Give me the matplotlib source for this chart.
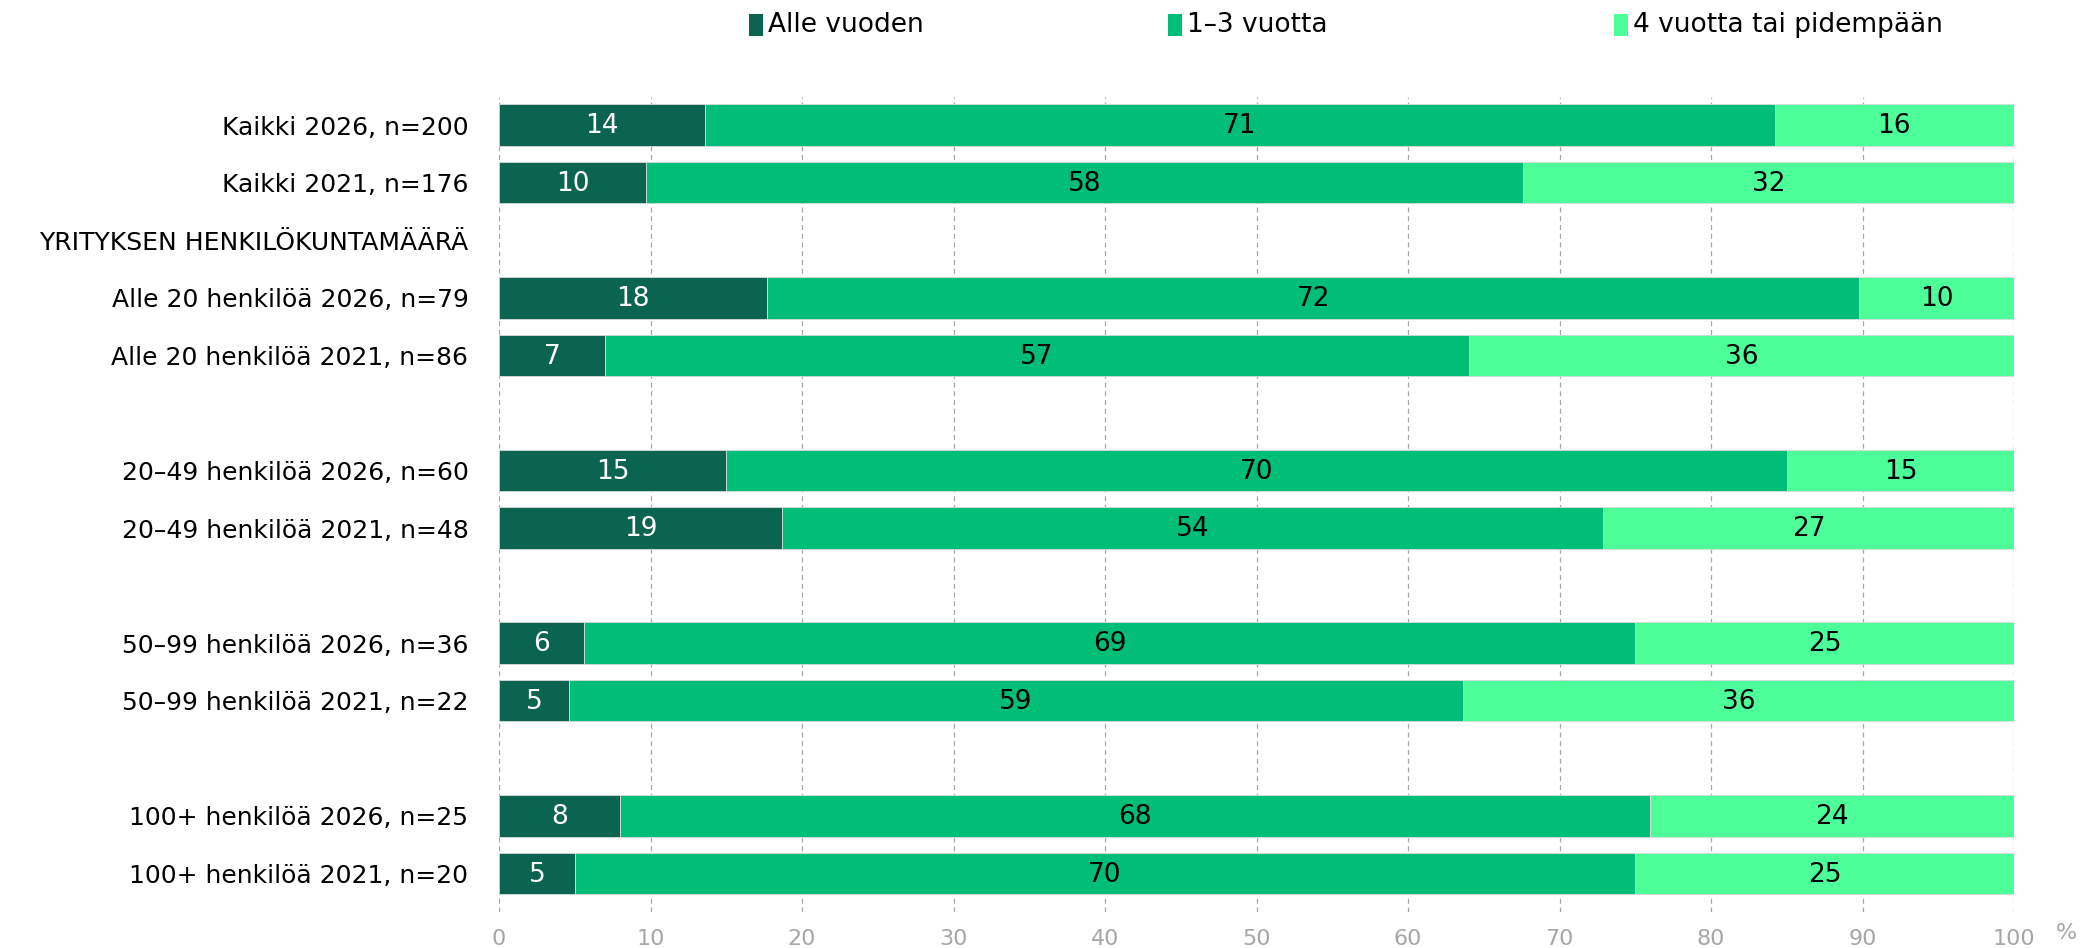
import matplotlib
matplotlib.use("Agg")
import matplotlib.pyplot as plt
from matplotlib.patches import Rectangle
import numpy as np

plt.rcParams["font.family"] = ["DejaVu Sans"]

# rows top to bottom; None marks a header / spacer row with no bar
categories = [
    "Kaikki 2026, n=200",
    "Kaikki 2021, n=176",
    "YRITYKSEN HENKILÖKUNTAMÄÄRÄ",
    "Alle 20 henkilöä 2026, n=79",
    "Alle 20 henkilöä 2021, n=86",
    "",
    "20–49 henkilöä 2026, n=60",
    "20–49 henkilöä 2021, n=48",
    "",
    "50–99 henkilöä 2026, n=36",
    "50–99 henkilöä 2021, n=22",
    "",
    "100+ henkilöä 2026, n=25",
    "100+ henkilöä 2021, n=20",
]
alle_vuoden = [13.6, 9.7, None, 17.7, 7.0, None, 15.0, 18.7, None, 5.6, 4.6, None, 8.0, 5.0]
vuotta_1_3 = [70.6, 57.9, None, 72.1, 57.0, None, 70.0, 54.2, None, 69.4, 59.0, None, 68.0, 70.0]
vuotta_4 = [15.8, 32.4, None, 10.2, 36.0, None, 15.0, 27.1, None, 25.0, 36.4, None, 24.0, 25.0]

series = ["Alle vuoden", "1–3 vuotta", "4 vuotta tai pidempään"]
colors = ["#0b6450", "#00bd77", "#4cff98"]
text_colors = ["white", "black", "black"]

W, H = 2087, 948
fig = plt.figure(figsize=(W / 100, H / 100), dpi=100)
ax = fig.add_axes([499 / W, 1 - 912 / H, (2014 - 499) / W, (912 - 97) / H])

y = np.arange(len(categories))
h = 0.72
for i, cat in enumerate(categories):
    if alle_vuoden[i] is None:
        continue
    left = 0
    for vals, c, tc in zip([alle_vuoden, vuotta_1_3, vuotta_4], colors, text_colors):
        v = vals[i]
        ax.barh(y[i], v, left=left, height=h, color=c, edgecolor="#d9d9d9", linewidth=0.6, zorder=3)
        ax.text(left + v / 2, y[i] + 0.02, f"{v:.0f}", ha="center", va="center",
                fontsize=19, color=tc, zorder=4)
        left += v

ax.set_xlim(0, 100)
ax.set_ylim(len(categories) - 1 + 0.67, -0.49)
ax.set_yticks(y)
ax.set_yticklabels(categories, fontsize=18)
ax.tick_params(axis="y", length=0, pad=22)
ax.set_xticks(np.arange(0, 101, 10))
ax.tick_params(axis="x", length=0, pad=12, labelsize=16, labelcolor="#a6a6a6")
ax.grid(axis="x", color="#a6a6a6", linestyle=(0, (4, 3)), linewidth=0.9, zorder=0)
for s in ax.spines.values():
    s.set_visible(False)
fig.text(2066 / W, 1 - 933 / H, "%", fontsize=16, color="#a6a6a6", ha="center", va="center")

# legend drawn by hand so the entries sit at fixed spots across the top
legend_x = [749, 1168, 1614]
for lx, c, name in zip(legend_x, colors, series):
    fig.patches.append(Rectangle((lx / W, 1 - 36 / H), 14 / W, 22 / H, facecolor=c,
                                 edgecolor="none", transform=fig.transFigure))
    fig.text((lx + 19) / W, 1 - 25 / H, name, fontsize=19, ha="left", va="center")

fig.savefig("out.png", dpi=100)
